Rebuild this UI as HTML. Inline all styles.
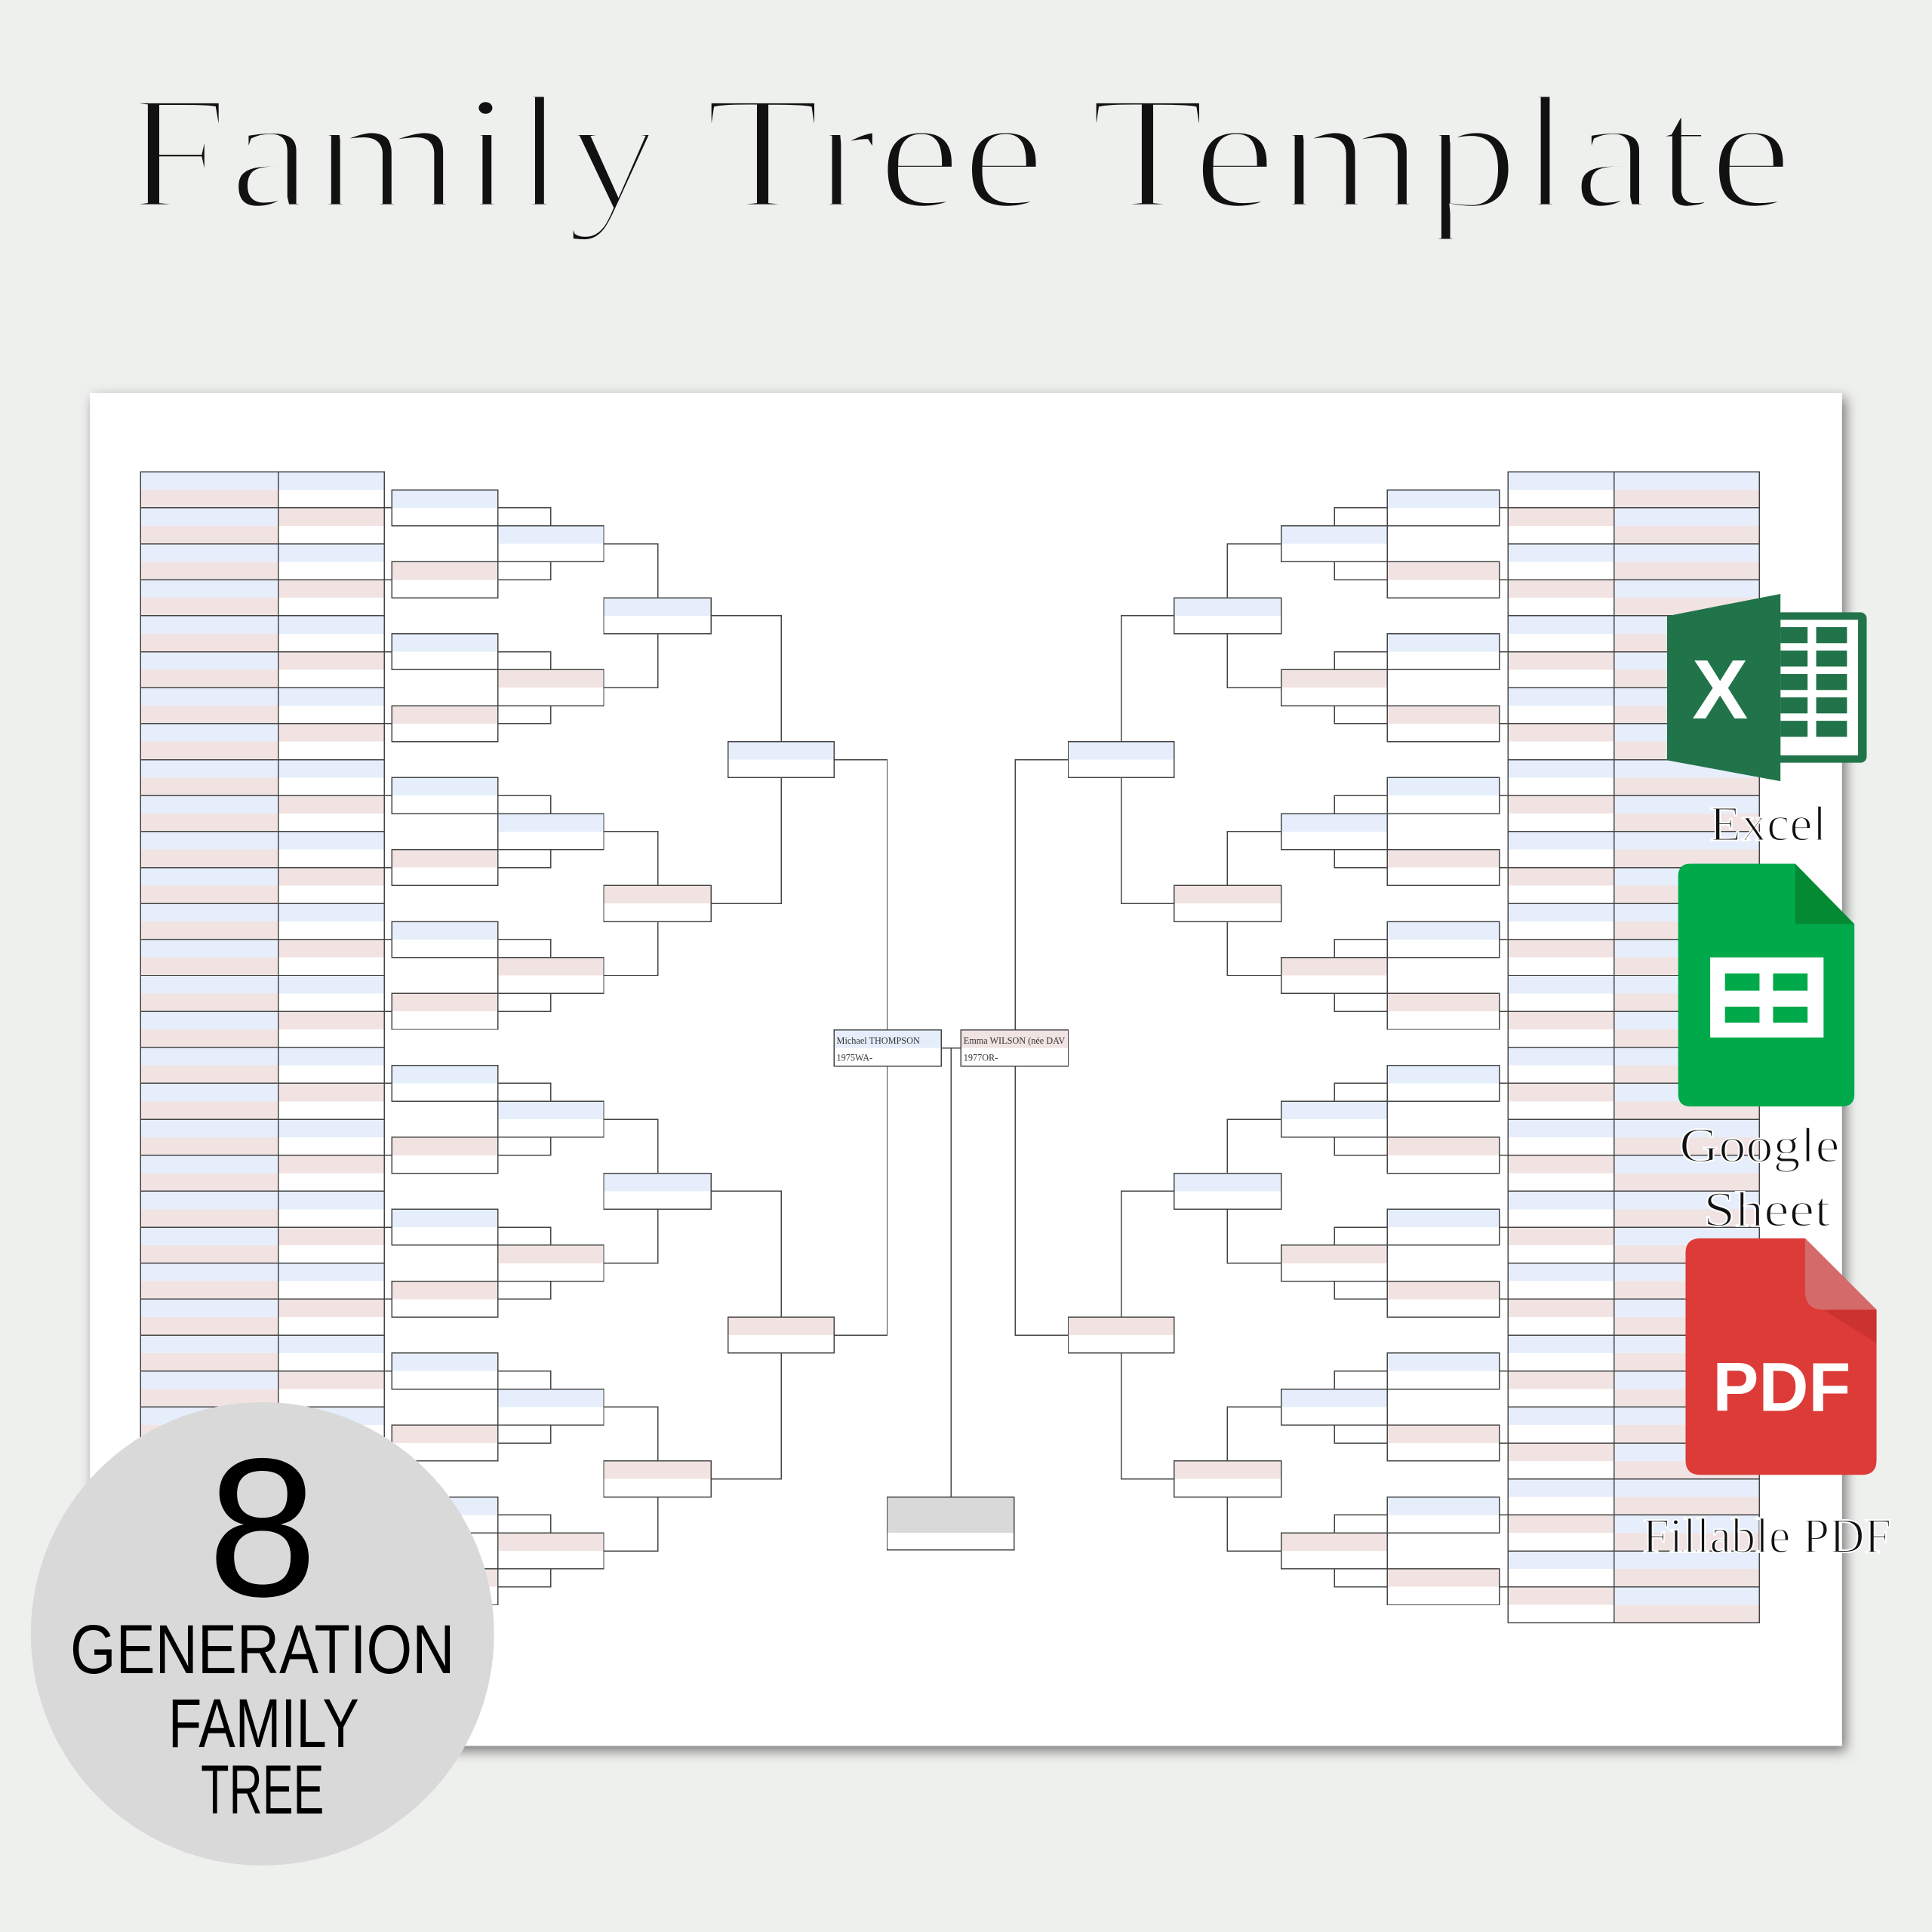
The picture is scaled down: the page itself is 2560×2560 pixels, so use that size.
<!DOCTYPE html>
<html><head><meta charset="utf-8">
<style>
html,body{margin:0;padding:0;background:#eef0ed;}
svg{display:block;}
</style></head>
<body>
<svg id="s" width="2560" height="2560" viewBox="0 0 1568 1568" xmlns="http://www.w3.org/2000/svg">
<defs>
<filter id="sh" x="-5%" y="-5%" width="110%" height="110%"><feGaussianBlur stdDeviation="5"/></filter>
</defs>
<rect width="1568" height="1568" fill="#eef0ed"/>
<text x="100" y="168" font-family="Liberation Serif, serif" font-size="132" fill="#111" stroke="#eef0ed" stroke-width="4.5" textLength="1355" lengthAdjust="spacingAndGlyphs">Family Tree Template</text>
<rect x="76" y="323" width="1422" height="1098" fill="#777" filter="url(#sh)"/>
<rect x="73" y="319" width="1422" height="1098" fill="#fff"/>
<g id="tree" stroke-width="0.9" shape-rendering="crispEdges"></g>
<text x="679" y="847" font-family="Liberation Serif, serif" font-size="7.5" fill="#333">Michael THOMPSON</text>
<text x="679" y="861" font-family="Liberation Serif, serif" font-size="7.5" fill="#333">1975WA-</text>
<text x="782" y="847" font-family="Liberation Serif, serif" font-size="7.5" fill="#333">Emma WILSON (née DAV</text>
<text x="782" y="861" font-family="Liberation Serif, serif" font-size="7.5" fill="#333">1977OR-</text>
<!-- Excel icon -->
<rect x="1440" y="497" width="75" height="122" rx="5" fill="#21734a"/>
<rect x="1445" y="503" width="63" height="110" fill="#fff"/>
<g fill="#21734a">
<rect x="1445" y="509" width="22" height="13"/><rect x="1474" y="509" width="25" height="13"/>
<rect x="1445" y="528" width="22" height="13"/><rect x="1474" y="528" width="25" height="13"/>
<rect x="1445" y="547" width="22" height="13"/><rect x="1474" y="547" width="25" height="13"/>
<rect x="1445" y="566" width="22" height="13"/><rect x="1474" y="566" width="25" height="13"/>
<rect x="1445" y="585" width="22" height="13"/><rect x="1474" y="585" width="25" height="13"/>
</g>
<polygon points="1353,500 1445,482 1445,634 1353,617" fill="#21734a"/>
<text x="1396" y="583" font-family="Liberation Sans, sans-serif" font-weight="bold" font-size="68" fill="#fff" text-anchor="middle">X</text>
<text x="1435" y="682" font-family="Liberation Serif, serif" font-size="40" fill="#111" stroke="#fff" stroke-width="1.2" text-anchor="middle" textLength="95" lengthAdjust="spacingAndGlyphs">Excel</text>
<!-- Sheets icon -->
<path d="M1372,701 H1457 L1505,750 V888 Q1505,898 1495,898 H1372 Q1362,898 1362,888 V711 Q1362,701 1372,701 Z" fill="#00a94a"/>
<polygon points="1457,701 1505,750 1457,750" fill="#038a33"/>
<rect x="1388" y="777" width="92" height="65" fill="#fff"/>
<g fill="#00a94a">
<rect x="1400" y="790" width="28" height="14"/><rect x="1439" y="790" width="28" height="14"/>
<rect x="1400" y="817" width="28" height="13"/><rect x="1439" y="817" width="28" height="13"/>
</g>
<text x="1428" y="943" font-family="Liberation Serif, serif" font-size="40" fill="#111" stroke="#fff" stroke-width="1.2" text-anchor="middle" textLength="130" lengthAdjust="spacingAndGlyphs">Google</text>
<text x="1434" y="995" font-family="Liberation Serif, serif" font-size="40" fill="#111" stroke="#fff" stroke-width="1.2" text-anchor="middle" textLength="103" lengthAdjust="spacingAndGlyphs">Sheet</text>
<!-- PDF icon -->
<path d="M1380,1005 H1465 L1523,1063 V1185 Q1523,1197 1511,1197 H1380 Q1368,1197 1368,1185 V1017 Q1368,1005 1380,1005 Z" fill="#dc3b38"/>
<path d="M1465,1005 L1523,1063 H1480 Q1465,1063 1465,1048 Z" fill="#d46a6a"/>
<polygon points="1480,1063 1523,1063 1523,1090" fill="#cc3230"/>
<text x="1446" y="1145" font-family="Liberation Sans, sans-serif" font-weight="bold" font-size="56" fill="#fff" text-anchor="middle" textLength="112" lengthAdjust="spacingAndGlyphs">PDF</text>
<text x="1434" y="1260" font-family="Liberation Serif, serif" font-size="40" fill="#111" stroke="#fff" stroke-width="1.2" text-anchor="middle" textLength="202" lengthAdjust="spacingAndGlyphs">Fillable PDF</text>
<!-- Badge -->
<circle cx="213" cy="1326" r="188" fill="#d9d9d9"/>
<text x="213" y="1295" font-family="Liberation Sans, sans-serif" font-size="160" fill="#000" text-anchor="middle">8</text>
<text x="213" y="1358" font-family="Liberation Sans, sans-serif" font-size="56" fill="#000" text-anchor="middle" textLength="312" lengthAdjust="spacingAndGlyphs">GENERATION</text>
<text x="214" y="1418" font-family="Liberation Sans, sans-serif" font-size="56" fill="#000" text-anchor="middle" textLength="155" lengthAdjust="spacingAndGlyphs">FAMILY</text>
<text x="213" y="1472" font-family="Liberation Sans, sans-serif" font-size="56" fill="#000" text-anchor="middle" textLength="100" lengthAdjust="spacingAndGlyphs">TREE</text>
</svg>
<script>
(function(){
var NS="http://www.w3.org/2000/svg",g=document.getElementById("tree");
var B="#e6eefb",P="#f2e3e3",L="#444";
function r(x,y,w,h,f,s){var e=document.createElementNS(NS,"rect");e.setAttribute("x",x);e.setAttribute("y",y);e.setAttribute("width",w);e.setAttribute("height",h);e.setAttribute("fill",f||"none");if(s)e.setAttribute("stroke",s);g.appendChild(e);}
function p(d){var e=document.createElementNS(NS,"path");e.setAttribute("d",d);e.setAttribute("fill","none");e.setAttribute("stroke",L);g.appendChild(e);}
var T=383,R=29.19,H=29.19;
function box(x,y,w,c){r(x,y,w,H/2,c);r(x,y,w,H,null,L);}
function cols(ax,aw,bx,bw){
 for(var i=0;i<32;i++){var y=T+i*R;
  r(ax,y,aw,R/2,B);r(ax,y+R/2,aw,R/2,P);r(ax,y,aw,R,null,L);
  r(bx,y,bw,R/2,i%2?P:B);r(bx,y,bw,R,null,L);}
}
cols(114,112,226,86);
cols(1310,118,1224,86);
function side(dir){
 var C=dir>0?[318,86]:[1126,91],D=dir>0?[404,86]:[1040,86],E=dir>0?[490,87]:[953,87],F=dir>0?[591,86]:[867,86];
 var vC=dir>0?447:1083,vD=dir>0?534:996,vE=dir>0?634:910,vF=dir>0?720:824;
 var colB=dir>0?312:1224;
 for(var k=0;k<16;k++){var y=T+R/2+2*R*k;box(C[0],y,C[1],k%2?P:B);
  var cy=y+H/2;p("M"+colB+","+cy+"H"+(dir>0?C[0]:C[0]+C[1]));}
 for(var j=0;j<8;j++){var y=T+1.5*R+4*R*j;box(D[0],y,D[1],j%2?P:B);
  var cx=dir>0?C[0]+C[1]:C[0];var c1=T+R+4*R*j,c2=T+3*R+4*R*j;
  p("M"+cx+","+c1+"H"+vC+"V"+y);p("M"+cx+","+c2+"H"+vC+"V"+(y+H));}
 for(var i=0;i<4;i++){var y=T+3.5*R+8*R*i;box(E[0],y,E[1],i%2?P:B);
  var dx=dir>0?D[0]+D[1]:D[0];var c1=T+2*R+8*R*i,c2=T+6*R+8*R*i;
  p("M"+dx+","+c1+"H"+vD+"V"+y);p("M"+dx+","+c2+"H"+vD+"V"+(y+H));}
 for(var m=0;m<2;m++){var y=T+7.5*R+16*R*m;box(F[0],y,F[1],m%2?P:B);
  var ex=dir>0?E[0]+E[1]:E[0];var c1=T+4*R+16*R*m,c2=T+12*R+16*R*m;
  p("M"+ex+","+c1+"H"+vE+"V"+y);p("M"+ex+","+c2+"H"+vE+"V"+(y+H));}
 var fx=dir>0?F[0]+F[1]:F[0];
 p("M"+fx+","+(T+8*R)+"H"+vF+"V836");p("M"+fx+","+(T+24*R)+"H"+vF+"V865");
}
side(1);side(-1);
box(677,836,87,B);box(780,836,87,P);
p("M764,850.5H780");p("M772,850.5V1215");
r(720,1215,103,29,"#d9d9d9");r(720,1215,103,43,null,L);
})();
</script>
</body></html>
